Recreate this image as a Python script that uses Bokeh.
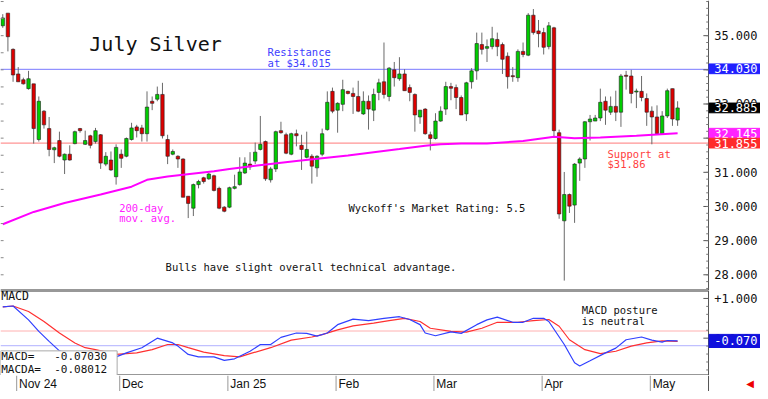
import numpy as np
from bokeh.plotting import figure
from bokeh.models import Range1d, ColumnDataSource
from bokeh.layouts import column
from bokeh.embed import file_html
from bokeh.resources import INLINE
from bokeh.core.properties import value

# ---------------- data ----------------
opens = [35.29, 35.66, 34.60, 33.88, 33.71, 33.45, 33.59, 31.96, 32.79, 32.28,
         31.66, 31.93, 31.36, 31.53, 31.84, 32.28, 31.82, 32.07, 31.90, 32.10,
         31.24, 31.36, 30.87, 31.53, 31.47, 31.96, 32.33, 32.30, 32.13, 33.08,
         33.14, 33.28, 31.96, 31.53, 31.47, 31.39, 30.30, 29.95, 30.64, 30.84,
         30.81, 30.90, 30.53, 29.98, 29.98, 30.53, 30.64, 30.98, 31.24, 31.33,
         31.67, 31.90, 30.78, 31.10, 32.22, 32.10, 31.53, 32.13, 31.79, 31.44,
         31.47, 31.13, 31.53, 32.25, 33.37, 32.82, 32.99, 33.37, 33.31, 33.22,
         32.71, 33.08, 32.82, 33.34, 33.65, 33.22, 34.00, 33.74, 33.88, 33.48,
         33.28, 32.62, 32.85, 32.10, 31.99, 32.50, 32.85, 33.51, 33.48, 33.19,
         32.71, 33.65, 33.97, 34.74, 34.63, 34.68, 34.89, 34.74, 34.40, 33.83,
         33.77, 34.54, 34.43, 35.60, 35.14, 35.09, 34.68, 35.23, 32.16, 29.58,
         30.35, 30.04, 31.27, 31.39, 32.48, 32.50, 32.59, 33.08, 32.76, 32.93,
         32.76, 33.84, 33.82, 33.35, 33.37, 33.16, 32.79, 32.62, 32.13, 32.65,
         33.45, 32.53]
highs = [35.63, 35.66, 34.63, 34.08, 33.77, 33.97, 33.59, 33.22, 32.82, 32.62,
         31.75, 32.19, 31.55, 31.79, 32.22, 32.30, 32.22, 32.10, 32.30, 32.12,
         31.59, 31.61, 31.82, 31.67, 32.02, 32.45, 32.39, 32.39, 33.37, 33.22,
         33.51, 33.62, 32.10, 31.67, 31.50, 31.41, 30.30, 30.67, 30.78, 30.87,
         30.98, 30.93, 30.58, 30.01, 30.58, 30.93, 31.44, 31.44, 31.59, 31.87,
         32.65, 31.93, 31.16, 32.22, 32.48, 32.16, 32.16, 32.25, 32.10, 32.19,
         31.53, 31.50, 32.28, 33.37, 33.48, 33.05, 33.71, 33.39, 33.48, 33.68,
         33.37, 33.25, 33.45, 33.74, 34.80, 34.08, 34.23, 34.37, 34.02, 33.57,
         33.31, 32.82, 32.88, 32.19, 32.73, 32.93, 33.65, 33.62, 33.57, 33.25,
         33.65, 34.05, 35.09, 35.09, 34.89, 35.26, 35.09, 34.80, 34.51, 34.08,
         34.60, 34.80, 35.66, 35.78, 35.46, 35.23, 35.40, 35.26, 32.25, 31.01,
         30.38, 31.27, 31.44, 32.50, 32.68, 32.68, 33.45, 33.22, 33.22, 33.39,
         33.88, 33.97, 34.00, 33.45, 33.82, 33.31, 32.93, 32.96, 32.79, 33.45,
         33.45, 33.08]
lows = [35.23, 34.54, 33.65, 33.65, 33.57, 33.42, 31.84, 31.90, 32.28, 31.47,
        31.27, 31.44, 30.95, 31.34, 31.82, 32.16, 31.80, 31.70, 31.84, 31.10,
        31.18, 31.04, 30.64, 31.13, 31.44, 31.93, 32.02, 31.90, 31.90, 32.82,
        33.08, 31.99, 31.24, 31.50, 31.13, 30.27, 29.66, 29.72, 30.53, 30.67,
        30.78, 30.44, 29.92, 29.83, 29.95, 30.50, 30.61, 30.95, 31.07, 31.24,
        31.64, 30.75, 30.70, 31.01, 32.13, 31.53, 31.50, 31.76, 31.07, 31.41,
        30.67, 30.87, 31.47, 32.22, 32.73, 32.16, 32.79, 33.28, 32.71, 32.76,
        32.68, 32.25, 32.50, 33.11, 33.16, 33.08, 33.51, 33.68, 33.39, 33.08,
        32.19, 32.42, 32.10, 31.64, 31.96, 32.48, 32.68, 33.11, 32.85, 32.68,
        32.50, 33.45, 33.71, 34.45, 34.23, 34.60, 34.40, 33.88, 33.45, 33.65,
        33.65, 34.37, 34.40, 35.03, 34.66, 34.45, 34.60, 32.02, 29.64, 27.83,
        29.81, 29.52, 30.75, 31.13, 31.93, 32.50, 32.50, 32.39, 32.68, 32.50,
        32.33, 33.42, 33.02, 32.88, 33.08, 32.36, 31.82, 32.10, 32.10, 32.59,
        32.36, 32.36]
closes = [35.52, 34.97, 33.85, 33.65, 33.59, 33.74, 32.28, 33.08, 32.39, 31.67,
          31.72, 31.47, 31.53, 31.36, 32.19, 32.22, 31.93, 31.79, 32.22, 31.27,
          31.47, 31.07, 31.73, 31.41, 31.99, 32.30, 32.22, 32.13, 32.91, 33.02,
          33.28, 32.07, 31.47, 31.61, 31.39, 30.27, 30.09, 30.64, 30.73, 30.73,
          30.95, 30.47, 29.95, 29.86, 30.55, 30.58, 31.01, 31.27, 31.16, 31.59,
          31.82, 30.81, 31.10, 32.19, 32.16, 31.56, 32.13, 32.07, 31.67, 31.67,
          31.18, 31.47, 32.13, 33.05, 32.79, 33.02, 33.42, 33.31, 33.22, 32.79,
          33.08, 32.85, 33.28, 33.62, 33.28, 34.05, 33.77, 33.88, 33.39, 33.34,
          32.68, 32.82, 32.13, 31.99, 32.50, 32.79, 33.51, 33.46, 33.19, 32.68,
          33.62, 33.97, 34.77, 34.60, 34.68, 34.91, 34.68, 34.31, 33.80, 33.80,
          34.54, 34.45, 35.60, 35.09, 35.06, 34.66, 35.29, 32.22, 29.78, 30.35,
          30.01, 31.24, 31.39, 32.48, 32.56, 32.59, 33.05, 32.82, 32.93, 32.76,
          33.82, 33.81, 33.31, 33.38, 33.19, 32.76, 32.62, 32.13, 32.65, 33.39,
          32.56, 32.885]

# 200-day moving average (bar index, price)
ma_idx = [0, 6, 12, 19, 25, 28, 32, 35, 38, 41, 44, 49, 57, 62, 67, 72, 77,
          82, 85, 89, 94, 101, 106, 107, 111, 116, 123, 131]
ma_val = [29.48, 29.84, 30.10, 30.35, 30.58, 30.78, 30.88, 30.93, 30.98, 31.03,
          31.10, 31.19, 31.33, 31.41, 31.49, 31.59, 31.68, 31.78, 31.82, 31.84,
          31.84, 31.92, 32.02, 32.04, 32.00, 32.02, 32.07, 32.145]

# MACD (blue) and signal line (red)
macd_idx = [0, 2, 5, 7, 9, 11, 14, 18, 22, 24, 27, 30, 33, 34, 36, 38, 41, 43,
            45, 48, 50, 52, 54, 57, 59, 61, 63, 65, 68, 71, 74, 77, 79, 81, 82,
            84, 87, 89, 92, 94, 96, 99, 101, 103, 105, 106, 109, 111, 112, 114,
            117, 119, 121, 124, 126, 128, 129, 131]
macd_val = [0.79, 0.81, 0.46, 0.17, -0.08, -0.32, -0.45, -0.52, -0.47, -0.37,
            -0.24, 0.00, -0.12, -0.20, -0.41, -0.47, -0.47, -0.56, -0.52, -0.33,
            -0.16, -0.16, 0.02, 0.13, 0.12, 0.05, 0.13, 0.34, 0.48, 0.44, 0.50,
            0.54, 0.47, 0.34, 0.13, 0.06, 0.16, 0.12, 0.34, 0.46, 0.53, 0.40,
            0.40, 0.50, 0.50, 0.42, -0.16, -0.62, -0.70, -0.57, -0.37, -0.25,
            -0.04, 0.03, -0.05, -0.10, -0.06, -0.0703]
sig_idx = [0, 2, 5, 8, 11, 14, 16, 18, 22, 26, 29, 32, 34, 36, 39, 43, 46, 48,
           52, 56, 60, 62, 65, 68, 72, 75, 78, 81, 83, 87, 90, 93, 96, 100, 103,
           106, 108, 110, 113, 116, 119, 122, 125, 128, 131]
sig_val = [0.79, 0.81, 0.67, 0.42, 0.13, -0.12, -0.24, -0.29, -0.41, -0.37,
           -0.29, -0.16, -0.16, -0.24, -0.35, -0.44, -0.47, -0.39, -0.24, -0.05,
           0.03, 0.09, 0.21, 0.31, 0.38, 0.44, 0.50, 0.42, 0.25, 0.17, 0.15,
           0.25, 0.40, 0.40, 0.44, 0.47, 0.30, -0.04, -0.29, -0.39, -0.33,
           -0.20, -0.12, -0.07, -0.08012]

month_labels = ["Nov 24", "Dec", "Jan 25", "Feb", "Mar", "Apr", "May"]
month_start_idx = [3, 23, 44, 65, 84, 105, 126]

price_ticks = [28, 29, 30, 31, 32, 33, 34, 35]
price_tick_labels = ["28.000", "29.000", "30.000", "31.000", "32.000", "33.000",
                     "34.000", "35.000"]
price_minor = list(np.round(np.arange(27.6, 36.01, 0.2), 2))
left_ticks = list(np.arange(28, 36.01, 0.5))
macd_ticks = [0, 1]
macd_tick_labels = ["0.000", "+1.000"]
macd_minor = [-0.8, -0.6, -0.4, -0.2, 0.2, 0.4, 0.6, 0.8]

resistance = 34.015
support = 31.855
macd_upper, macd_lower = 0.18, -0.19

# right-hand value markers: (value, text, colour)
price_markers = [(34.030, "34.030", "#2020ff"), (32.885, "32.885", "#000000"),
                 (32.145, "32.145", "#ff22ff"), (31.855, "31.855", "#ff2a2a")]
macd_markers = [(-0.0703, "-0.070", "#1010dd")]
macd_last = -0.07030
macda_last = -0.08012

# ---------------- geometry / styling ----------------
MONO = "DejaVu Sans Mono"
FW = 760
X0, XAX, X1 = -0.44, 137.0, 147.09     # frame left, price-axis position, frame right
XR = Range1d(X0, X1)
GREEN = "#00cc00"
RED = "#dd0000"
AXC = "#555555"
NB = "\u00a0"   # non-breaking space (SVG collapses normal runs of spaces)


def base_fig(h, yr):
    f = figure(frame_width=FW, frame_height=h, x_range=XR, y_range=yr,
               x_axis_location=None, y_axis_location=None,
               output_backend="svg", toolbar_location=None,
               min_border_left=0, min_border_right=0, min_border_top=0,
               min_border_bottom=0, background_fill_color="white",
               border_fill_color="white", outline_line_color=None)
    f.grid.visible = False
    return f


def txt(fig, x, y, s, color, size, font=MONO, align="left"):
    fig.text(x=x if isinstance(x, list) else [x], y=y if isinstance(y, list) else [y],
             text=s if isinstance(s, list) else [s], text_color=color,
             text_font=value(font), text_font_size=size, text_align=align,
             text_baseline="middle")


def right_axis(fig, yr, ticks, labels, minor, markers, box_h):
    fig.segment(x0=[XAX], y0=[yr.start], x1=[XAX], y1=[yr.end], line_color=AXC, line_width=1)
    fig.segment(x0=[XAX - 1.0] * len(ticks), y0=ticks, x1=[XAX] * len(ticks), y1=ticks,
                line_color=AXC, line_width=1)
    fig.segment(x0=[XAX - 0.45] * len(minor), y0=minor, x1=[XAX] * len(minor), y1=minor,
                line_color="#777777", line_width=1)
    txt(fig, [XAX + 1.1] * len(ticks), ticks, labels, "#111111", "12px")
    for v, s, c in markers:
        fig.quad(left=[XAX + 0.1], right=[X1], bottom=[v - box_h / 2], top=[v + box_h / 2],
                 fill_color=c, line_color=c)
        txt(fig, XAX + 1.1, v, s, "white", "12px")


# ---------------- main price panel ----------------
YR = Range1d(27.54, 36.03)
p = base_fig(290, YR)

p.segment(x0=[X0, X0], y0=[resistance, support], x1=[XAX, XAX], y1=[resistance, support],
          line_color=["#7a7aff", "#ff7a7a"], line_width=1)

idx = list(range(len(opens)))
tops = [max(o, c) for o, c in zip(opens, closes)]
bots = [min(o, c) for o, c in zip(opens, closes)]
cols = [GREEN if c >= o else RED for o, c in zip(opens, closes)]
src = ColumnDataSource(dict(x=idx, h=highs, l=lows, t=tops, b=bots, c=cols))
p.segment(x0="x", y0="l", x1="x", y1="h", source=src, line_color="#6a6a6a", line_width=1)
p.vbar(x="x", width=0.66, top="t", bottom="b", source=src, fill_color="c",
       line_color="#222222", line_width=0.6)
p.line(ma_idx, ma_val, line_color="#ff00ff", line_width=2)

p.segment(x0=[X0] * len(left_ticks), y0=left_ticks, x1=[X0 + 0.6] * len(left_ticks),
          y1=left_ticks, line_color="#888888", line_width=1)
p.segment(x0=[X0], y0=[YR.start], x1=[XAX], y1=[YR.start], line_color="#333333", line_width=2)

txt(p, 16.8, 34.76, "July Silver", "#111111", "20px")
txt(p, 51.4, 34.52, "Resistance", "#4040ff", "10.5px")
txt(p, 51.4, 34.21, "at $34.015", "#4040ff", "10.5px")
txt(p, 117.4, 31.54, "Support at", "#ff4040", "10.5px")
txt(p, 117.4, 31.25, "$31.86", "#ff4040", "10.5px")
txt(p, 22.6, 29.96, "200-day", "#ff22ff", "10.5px")
txt(p, 22.6, 29.66, "mov. avg.", "#ff22ff", "10.5px")
txt(p, 67.1, 29.95, "Wyckoff's Market Rating: 5.5", "#111111", "10.5px")
txt(p, 31.6, 28.22, "Bulls have slight overall technical advantage.", "#111111", "10.5px")

right_axis(p, YR, price_ticks, price_tick_labels, price_minor, price_markers, 0.285)

# ---------------- MACD panel ----------------
MR = Range1d(-0.94, 1.2)
m = base_fig(85, MR)
m.segment(x0=[X0, X0], y0=[macd_upper, macd_lower], x1=[XAX, XAX], y1=[macd_upper, macd_lower],
          line_color=["#ffb0b0", "#b0b0ff"], line_width=1)
m.line(sig_idx, sig_val, line_color="#ff3030", line_width=1.2)
m.line(macd_idx, macd_val, line_color="#3040ff", line_width=1.2)
m.segment(x0=[X0, X0], y0=[MR.start, MR.end], x1=[XAX, XAX], y1=[MR.start, MR.end],
          line_color="#333333", line_width=2)

txt(m, -0.3, 1.06, "MACD", "#111111", "11.5px")
txt(m, 112.4, 0.70, "MACD posture", "#111111", "10.5px")
txt(m, 112.4, 0.44, "is neutral", "#111111", "10.5px")

# info box (drawn as a glyph so that its texts sit on top)
m.quad(left=[X0], right=[22.2], bottom=[MR.start], top=[-0.32],
       fill_color="white", line_color="#aaaaaa", line_width=1)
txt(m, -0.3, -0.47, "MACD=" + NB * 3 + "%.5f" % macd_last, "#111111", "11px")
txt(m, -0.3, -0.79, "MACDA=" + NB * 2 + "%.5f" % macda_last, "#111111", "11px")
right_axis(m, MR, macd_ticks, macd_tick_labels, macd_minor, macd_markers, 0.33)

# ---------------- date strip ----------------
d = base_fig(16, Range1d(0, 1))
sep = [i - 0.3 for i in month_start_idx]
d.segment(x0=sep, y0=[0] * len(sep), x1=sep, y1=[1] * len(sep),
          line_color="#999999", line_width=1)
d.segment(x0=[XAX], y0=[0], x1=[XAX], y1=[1], line_color=AXC, line_width=1)
txt(d, [i + 0.15 for i in month_start_idx], [0.45] * len(sep), month_labels,
    "#111111", "12px", font="Liberation Sans")
txt(d, XAX + 7.3, 0.5, "\u25C0", "#ee0000", "10px", font="DejaVu Sans")

layout = column(p, m, d, spacing=0)
open("out.html", "w").write(file_html(layout, INLINE))
